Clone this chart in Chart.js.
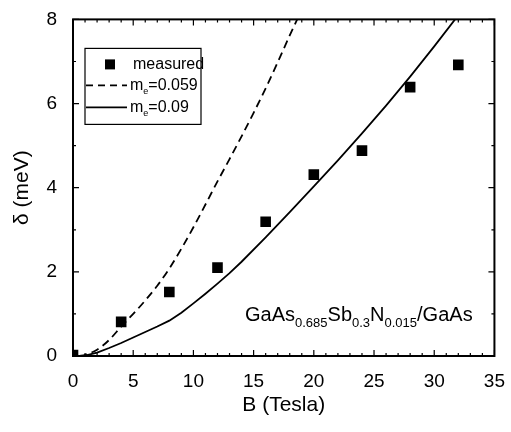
<!DOCTYPE html>
<html>
<head>
<meta charset="utf-8">
<script src="https://cdn.jsdelivr.net/npm/chart.js@4/dist/chart.umd.min.js"></script>
<style>
  html, body { margin: 0; padding: 0; background: #fff; }
  #wrap { width: 511px; height: 432px; }
</style>
</head>
<body>
<div id="wrap"><canvas id="deltaChart" width="511" height="432"></canvas></div>
<script>
// measured splitting
const measuredB = [0, 4, 8, 12, 16, 20, 24, 28, 32];
const measuredDelta = [0.02, 0.81, 1.52, 2.1, 3.19, 4.31, 4.88, 6.39, 6.92];

// calculated, m_e = 0.059 (dashed)
const lightB = [0.5, 1, 2, 3, 4, 5, 6, 7, 8, 9, 10, 11, 12, 13, 14, 15, 16, 17, 18, 18.7];
const lightDelta = [0, 0.03, 0.15, 0.38, 0.7, 1.0, 1.32, 1.67, 2.08, 2.55, 3.06, 3.6, 4.15, 4.68, 5.22, 5.78, 6.36, 6.98, 7.62, 8.05];

// calculated, m_e = 0.09 (solid)
const heavyB = [0.5, 1, 2, 3, 4, 5, 6, 7, 8, 9, 10, 11, 12, 13, 14, 16, 18, 20, 22, 24, 26, 28, 30, 32];
const heavyDelta = [0, 0.01, 0.08, 0.19, 0.31, 0.44, 0.57, 0.7, 0.84, 1.03, 1.25, 1.48, 1.72, 1.97, 2.24, 2.82, 3.42, 4.03, 4.65, 5.29, 5.95, 6.64, 7.36, 8.1];

const xTicks = [0, 5, 10, 15, 20, 25, 30, 35];
const yTicks = [0, 2, 4, 6, 8];

const FONT = '"Liberation Sans", Arial, sans-serif';

function pairs(xs, ys) {
    return xs.map((x, i) => ({ x: x, y: ys[i] }));
}

// inward tick marks on all four sides + frame
const frameTicks = {
    id: 'frameTicks',
    afterDatasetsDraw(chart) {
        const { ctx, chartArea: a, scales } = chart;
        const xs = scales.x, ys = scales.y;
        ctx.save();
        ctx.strokeStyle = '#000';
        ctx.lineWidth = 1.2;
        ctx.beginPath();
        for (let v = xs.min; v <= xs.max; v++) {
            const p = xs.getPixelForValue(v);
            const len = v % 5 === 0 ? 6 : 3;
            ctx.moveTo(p, a.bottom); ctx.lineTo(p, a.bottom - len);
            ctx.moveTo(p, a.top); ctx.lineTo(p, a.top + len);
        }
        for (let v = ys.min; v <= ys.max; v++) {
            const p = ys.getPixelForValue(v);
            const len = v % 2 === 0 ? 6 : 3;
            ctx.moveTo(a.left, p); ctx.lineTo(a.left + len, p);
            ctx.moveTo(a.right, p); ctx.lineTo(a.right - len, p);
        }
        ctx.stroke();
        ctx.lineWidth = 2;
        ctx.strokeRect(a.left, a.top, a.right - a.left, a.bottom - a.top);
        ctx.restore();
    }
};

// legend box and the sample label, both need subscripts
function drawSub(ctx, parts, x, y, big, small, drop) {
    parts.forEach(([txt, sub]) => {
        ctx.font = (sub ? small : big) + 'px ' + FONT;
        ctx.fillText(txt, x, sub ? y + drop : y);
        x += ctx.measureText(txt).width;
    });
}

const notes = {
    id: 'notes',
    afterDraw(chart) {
        const { ctx, chartArea: a } = chart;
        ctx.save();
        ctx.fillStyle = '#000';
        ctx.strokeStyle = '#000';
        ctx.textBaseline = 'middle';

        // legend
        const bx = a.left + 12, by = a.top + 29;
        ctx.lineWidth = 1.2;
        ctx.strokeRect(bx, by, 116, 76);
        ctx.fillRect(bx + 20, by + 11, 10, 10);
        ctx.font = '16px ' + FONT;
        ctx.fillText('measured', bx + 48, by + 16);

        ctx.lineWidth = 1.8;
        ctx.setLineDash([7, 5]);
        ctx.beginPath(); ctx.moveTo(bx + 1, by + 37); ctx.lineTo(bx + 42, by + 37); ctx.stroke();
        ctx.setLineDash([]);
        ctx.beginPath(); ctx.moveTo(bx + 1, by + 59); ctx.lineTo(bx + 42, by + 59); ctx.stroke();
        drawSub(ctx, [['m', false], ['e', true], ['=0.059', false]], bx + 45, by + 37, 16, 9, 6);
        drawSub(ctx, [['m', false], ['e', true], ['=0.09', false]], bx + 45, by + 59, 16, 9, 6);

        // sample label
        drawSub(ctx, [['GaAs', false], ['0.685', true], ['Sb', false], ['0.3', true],
                      ['N', false], ['0.015', true], ['/GaAs', false]],
                a.left + 172, a.bottom - 41, 20, 13, 8);
        ctx.restore();
    }
};

new Chart(document.getElementById('deltaChart'), {
    type: 'scatter',
    data: {
        datasets: [
            {
                label: 'measured',
                data: pairs(measuredB, measuredDelta),
                pointStyle: 'rect',
                pointRadius: 7.5,
                backgroundColor: '#000',
                borderColor: '#000',
                borderWidth: 0,
                showLine: false
            },
            {
                label: 'm_e=0.059',
                data: pairs(lightB, lightDelta),
                showLine: true,
                pointRadius: 0,
                borderColor: '#000',
                borderWidth: 1.8,
                borderDash: [8, 5],
                cubicInterpolationMode: 'monotone'
            },
            {
                label: 'm_e=0.09',
                data: pairs(heavyB, heavyDelta),
                showLine: true,
                pointRadius: 0,
                borderColor: '#000',
                borderWidth: 1.8,
                tension: 0
            }
        ]
    },
    options: {
        responsive: false,
        animation: false,
        layout: { padding: { top: 18, right: 11, left: 0, bottom: 0 } },
        scales: {
            x: {
                type: 'linear',
                min: 0,
                max: 35,
                afterFit(scale) { scale.height = 76; },
                afterBuildTicks(scale) { scale.ticks = xTicks.map(v => ({ value: v })); },
                grid: { display: false },
                border: { display: false },
                ticks: { color: '#000', font: { family: FONT, size: 19 }, padding: 6, maxRotation: 0 },
                title: {
                    display: true,
                    text: 'B (Tesla)',
                    color: '#000',
                    font: { family: FONT, size: 21 },
                    padding: { top: 0, bottom: 14 }
                }
            },
            y: {
                type: 'linear',
                min: 0,
                max: 8,
                afterFit(scale) { scale.width = 73; },
                afterBuildTicks(scale) { scale.ticks = yTicks.map(v => ({ value: v })); },
                grid: { display: false },
                border: { display: false },
                ticks: { color: '#000', font: { family: FONT, size: 19 }, padding: 8 },
                title: {
                    display: true,
                    text: 'δ (meV)',
                    color: '#000',
                    font: { family: FONT, size: 21 },
                    padding: { top: 10, bottom: 0 }
                }
            }
        },
        plugins: {
            legend: { display: false },
            tooltip: { enabled: false }
        }
    },
    plugins: [frameTicks, notes]
});
</script>
</body>
</html>
